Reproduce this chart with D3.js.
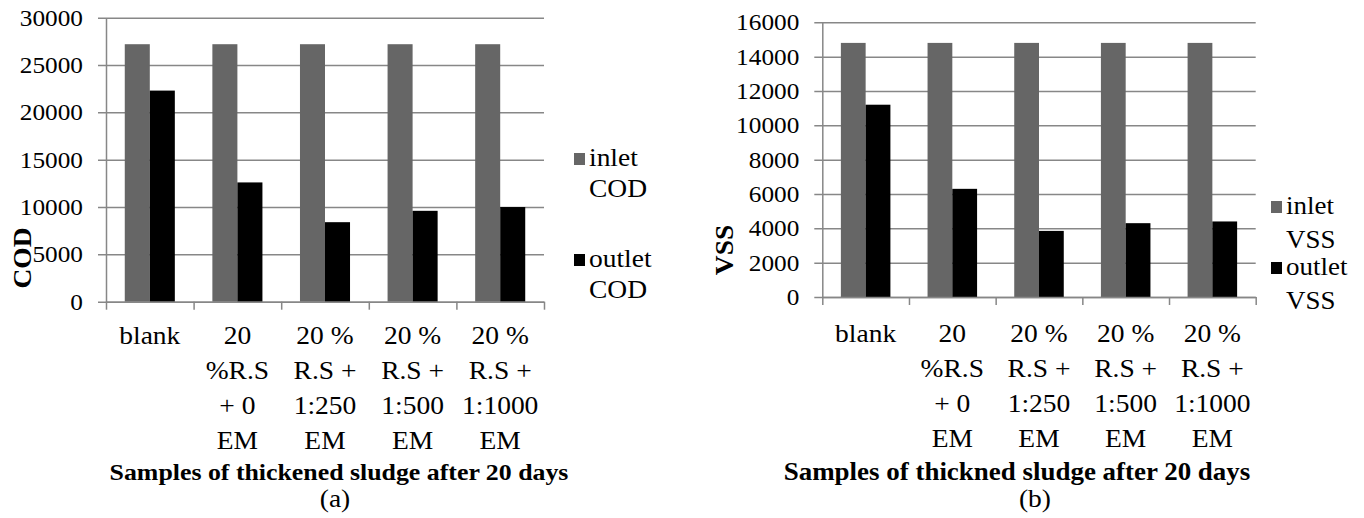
<!DOCTYPE html>
<html>
<head>
<meta charset="utf-8">
<script src="https://cdn.jsdelivr.net/npm/d3@7"></script>
<style>
  body { margin: 0; background: #fff; }
  svg { display: block; }
  text { font-family: "Liberation Serif", "Times New Roman", serif; fill: #000; }
</style>
</head>
<body>
<div id="chart"></div>
<script>
// ---- data ----
const categories = ["blank", "20 %R.S + 0 EM", "20 % R.S + 1:250 EM", "20 % R.S + 1:500 EM", "20 % R.S + 1:1000 EM"];
const catLines = [
  ["blank"],
  ["20", "%R.S", "+ 0", "EM"],
  ["20 %", "R.S +", "1:250", "EM"],
  ["20 %", "R.S +", "1:500", "EM"],
  ["20 %", "R.S +", "1:1000", "EM"]
];
const codInlet  = [27200, 27200, 27200, 27200, 27200];
const codOutlet = [22300, 12600, 8400, 9600, 10000];
const vssInlet  = [14800, 14800, 14800, 14800, 14800];
const vssOutlet = [11200, 6300, 3850, 4300, 4400];
const codTicks = [0, 5000, 10000, 15000, 20000, 25000, 30000];
const vssTicks = [0, 2000, 4000, 6000, 8000, 10000, 12000, 14000, 16000];

var width = 1364, height = 518;
var gridColor = '#878787', inletColor = '#666666', outletColor = '#000000';
var sx = 1.1; // the figure is a little wider than tall

var svg = d3.select('#chart').append('svg')
  .attr('width', width).attr('height', height);
svg.append('rect').attr('width', width).attr('height', height).attr('fill', '#fff');

// stretch text horizontally around its own anchor point
function stretch(sel) {
  sel.each(function() {
    var t = d3.select(this);
    var x = +t.attr('x') || 0, y = +t.attr('y') || 0;
    t.attr('transform', 'translate(' + x + ',' + y + ') scale(' + sx + ',1) translate(' + (-x) + ',' + (-y) + ')');
  });
}

function drawPanel(cfg) {
  var g = svg.append('g');

  var y = d3.scaleLinear().domain([0, cfg.max]).range([cfg.bottom, cfg.top]);
  var x = d3.scaleBand().domain(d3.range(categories.length))
    .range([cfg.left, cfg.right])
    .paddingInner(3 / 7).paddingOuter(1.5 / 7);
  var x1 = d3.scaleBand().domain(['inlet', 'outlet']).range([0, x.bandwidth()]);
  var xl = d3.scaleLinear().domain([0, categories.length]).range([cfg.left, cfg.right]);

  // y axis with grid lines
  var yAxisG = g.append('g')
    .attr('transform', 'translate(' + cfg.left + ',0)')
    .call(d3.axisLeft(y).tickValues(cfg.ticks).tickSizeOuter(0).tickPadding(17).tickFormat(d3.format('d')));
  yAxisG.selectAll('.tick line')
    .attr('x1', -8).attr('x2', cfg.right - cfg.left)
    .attr('stroke', gridColor).attr('stroke-width', 1.5);
  yAxisG.select('.domain').attr('stroke', gridColor).attr('stroke-width', 1.5);
  yAxisG.selectAll('text').attr('font-size', 23).attr('font-family', null).call(stretch);

  // bars
  var rows = categories.map(function(c, i) {
    return { i: i, vals: [['inlet', cfg.inlet[i]], ['outlet', cfg.outlet[i]]] };
  });
  g.selectAll('.grp').data(rows).enter().append('g')
    .attr('transform', function(d) { return 'translate(' + x(d.i) + ',0)'; })
    .selectAll('rect').data(function(d) { return d.vals; }).enter().append('rect')
    .attr('x', function(d) { return x1(d[0]); })
    .attr('y', function(d) { return y(d[1]); })
    .attr('width', x1.bandwidth())
    .attr('height', function(d) { return y(0) - y(d[1]); })
    .attr('fill', function(d) { return d[0] === 'inlet' ? inletColor : outletColor; });

  // x axis line and category ticks
  var xAxisG = g.append('g')
    .attr('transform', 'translate(0,' + cfg.bottom + ')')
    .call(d3.axisBottom(xl).tickValues(d3.range(categories.length + 1)).tickSize(8).tickSizeOuter(0).tickFormat(''));
  xAxisG.selectAll('line').attr('stroke', gridColor).attr('stroke-width', 1.5);
  xAxisG.select('.domain').attr('stroke', gridColor).attr('stroke-width', 1.5);

  // category labels
  g.selectAll('.cat').data(catLines).enter().append('g')
    .each(function(lines, i) {
      var cx = x(i) + x.bandwidth() / 2;
      d3.select(this).selectAll('text').data(lines).enter().append('text')
        .attr('x', cx)
        .attr('y', function(d, k) { return cfg.catBase + k * 35; })
        .attr('text-anchor', 'middle')
        .attr('font-size', 25)
        .text(function(d) { return d; })
        .call(stretch);
    });

  // axis titles
  g.append('text')
    .attr('x', cfg.titleX).attr('y', cfg.titleY)
    .attr('text-anchor', 'middle').attr('font-size', cfg.titleSize).attr('font-weight', 'bold')
    .text(cfg.xTitle).call(stretch);

  g.append('text')
    .attr('transform', 'translate(' + cfg.yTitleX + ',' + cfg.yTitleY + ') rotate(-90) scale(' + sx + ',1)')
    .attr('text-anchor', 'middle').attr('dy', '0.35em')
    .attr('font-size', 25).attr('font-weight', 'bold')
    .text(cfg.yTitle);

  g.append('text')
    .attr('x', cfg.capX).attr('y', cfg.capY)
    .attr('text-anchor', 'middle').attr('font-size', 25)
    .text(cfg.caption).call(stretch);

  // legend
  var leg = g.append('g');
  cfg.legend.forEach(function(item) {
    leg.append('rect')
      .attr('x', cfg.legX).attr('y', item.base - 13)
      .attr('width', 11).attr('height', 12)
      .attr('fill', item.color);
    item.lines.forEach(function(txt, k) {
      leg.append('text')
        .attr('x', cfg.legX + 15).attr('y', item.base + k * cfg.legLine)
        .attr('font-size', cfg.legSize).text(txt).call(stretch);
    });
  });
}

drawPanel({
  left: 106, right: 544, top: 17.7, bottom: 301.7, max: 30000, ticks: codTicks,
  inlet: codInlet, outlet: codOutlet, catBase: 344,
  xTitle: 'Samples of thickened sludge after 20 days', titleX: 339, titleY: 480, titleSize: 23.5,
  yTitle: 'COD', yTitleX: 22, yTitleY: 258,
  caption: '(a)', capX: 335, capY: 507,
  legX: 574, legLine: 31, legSize: 25,
  legend: [
    { color: inletColor, base: 166, lines: ['inlet', 'COD'] },
    { color: outletColor, base: 267, lines: ['outlet', 'COD'] }
  ]
});

drawPanel({
  left: 822.3, right: 1255.7, top: 22.3, bottom: 297, max: 16000, ticks: vssTicks,
  inlet: vssInlet, outlet: vssOutlet, catBase: 342,
  xTitle: 'Samples of thickned sludge after 20 days', titleX: 1017, titleY: 480, titleSize: 24.5,
  yTitle: 'VSS', yTitleX: 724, yTitleY: 250,
  caption: '(b)', capX: 1035, capY: 507,
  legX: 1271, legLine: 34, legSize: 24.5,
  legend: [
    { color: inletColor, base: 214, lines: ['inlet', 'VSS'] },
    { color: outletColor, base: 275, lines: ['outlet', 'VSS'] }
  ]
});
</script>
</body>
</html>
